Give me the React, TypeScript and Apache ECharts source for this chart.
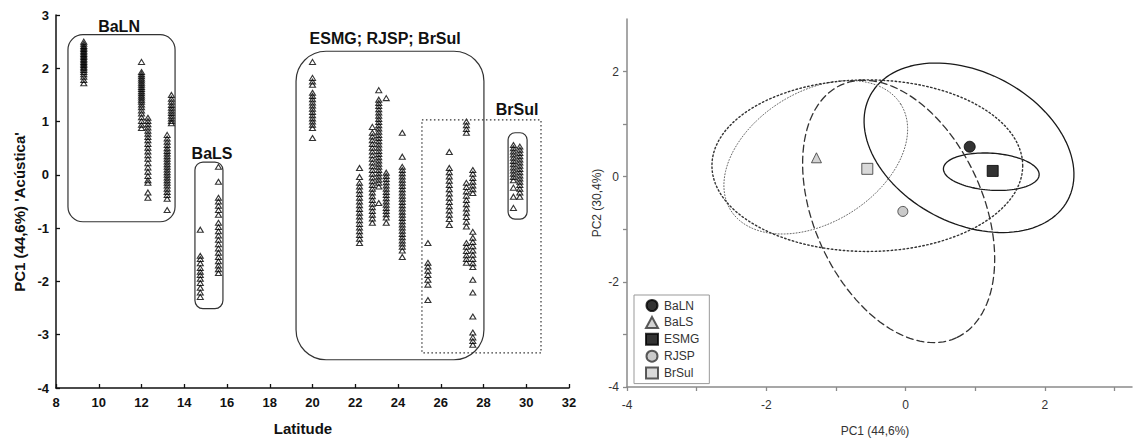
import React, { useEffect, useRef } from 'react';
import * as echarts from 'echarts';

// ---------- Left panel: PC1 scores by latitude ----------
const lat09_3 = [2.50, 2.46, 2.42, 2.39, 2.36, 2.33, 2.30, 2.27, 2.24, 2.21, 2.18, 2.15, 2.12, 2.09, 2.06, 2.03, 2.00, 1.97, 1.93, 1.89, 1.84, 1.78, 1.72];
const lat12_0 = [2.12, 1.93, 1.89, 1.85, 1.81, 1.77, 1.73, 1.69, 1.65, 1.61, 1.57, 1.53, 1.49, 1.45, 1.41, 1.37, 1.32, 1.27, 1.21, 1.15, 1.08, 1.01, 0.94, 0.88];
const lat12_3 = [1.07, 1.01, 0.95, 0.89, 0.83, 0.77, 0.71, 0.65, 0.58, 0.51, 0.44, 0.37, 0.30, 0.22, 0.14, 0.06, -0.02, -0.10, -0.15, -0.33, -0.43];
const lat13_2 = [0.75, 0.68, 0.62, 0.56, 0.50, 0.45, 0.40, 0.35, 0.30, 0.25, 0.20, 0.15, 0.10, 0.05, 0.00, -0.05, -0.10, -0.15, -0.20, -0.26, -0.32, -0.38, -0.45, -0.66];
const lat13_4 = [1.50, 1.43, 1.37, 1.31, 1.26, 1.21, 1.16, 1.11, 1.06, 1.01, 0.97];
const lat14_75 = [-1.03, -1.52, -1.58, -1.66, -1.75, -1.82, -1.88, -1.95, -2.03, -2.12, -2.21, -2.29];
const lat15_6 = [0.15, -0.13, -0.43, -0.50, -0.58, -0.66, -0.75, -0.90, -0.98, -1.06, -1.14, -1.22, -1.30, -1.38, -1.46, -1.54, -1.62, -1.70, -1.77, -1.84];
const lat20_0 = [2.12, 1.82, 1.75, 1.69, 1.54, 1.48, 1.42, 1.36, 1.30, 1.24, 1.18, 1.12, 1.06, 1.00, 0.94, 0.88, 0.69];
const lat22_2 = [0.13, -0.04, -0.15, -0.22, -0.29, -0.36, -0.43, -0.50, -0.57, -0.64, -0.71, -0.78, -0.85, -0.92, -0.99, -1.06, -1.13, -1.20, -1.28];
const lat22_8 = [0.90, 0.79, 0.72, 0.65, 0.58, 0.51, 0.44, 0.37, 0.30, 0.23, 0.16, 0.09, 0.02, -0.05, -0.12, -0.19, -0.26, -0.33, -0.40, -0.47, -0.54, -0.61, -0.68, -0.75, -0.82, -0.90];
const lat23_1 = [1.59, 1.41, 1.35, 1.29, 1.23, 1.17, 1.11, 1.05, 0.99, 0.93, 0.87, 0.81, 0.75, 0.69, 0.63, 0.57, 0.51, 0.45, 0.39, 0.33, 0.27, 0.21, 0.15, 0.09, 0.03, -0.03, -0.09, -0.15, -0.22, -0.53];
const lat23_45 = [1.44, 0.04, -0.02, -0.08, -0.14, -0.20, -0.26, -0.32, -0.38, -0.44, -0.50, -0.56, -0.62, -0.68, -0.74, -0.80, -0.90];
const lat24_2 = [0.79, 0.34, 0.15, 0.09, 0.03, -0.03, -0.09, -0.15, -0.21, -0.27, -0.33, -0.39, -0.45, -0.51, -0.57, -0.63, -0.69, -0.75, -0.81, -0.87, -0.93, -0.99, -1.05, -1.11, -1.17, -1.23, -1.29, -1.35, -1.42, -1.54];
const lat25_4 = [-1.28, -1.65, -1.72, -1.80, -1.88, -1.97, -2.06, -2.35];
const lat26_4 = [0.43, 0.13, 0.05, -0.03, -0.11, -0.19, -0.27, -0.35, -0.43, -0.51, -0.59, -0.67, -0.75, -0.83, -0.94];
const lat27_2 = [1.00, 0.93, 0.86, 0.79, -0.15, -0.23, -0.31, -0.39, -0.47, -0.55, -0.63, -0.71, -0.79, -0.88, -0.97, -1.28, -1.35, -1.43, -1.51, -1.58, -1.65];
const lat27_5 = [0.09, 0.02, -0.06, -0.13, -0.20, -0.27, -0.34, -1.07, -1.18, -1.26, -1.34, -1.42, -1.50, -1.58, -1.66, -1.73, -1.97, -2.21, -2.66, -2.96, -3.05, -3.12, -3.19];
const lat29_4 = [0.56, 0.50, 0.44, 0.38, 0.32, 0.26, 0.20, 0.14, 0.08, 0.02, -0.04, -0.10, -0.24, -0.41, -0.62];
const lat29_7 = [0.53, 0.47, 0.41, 0.35, 0.29, 0.23, 0.17, 0.11, 0.05, -0.01, -0.07, -0.13, -0.19, -0.26, -0.33, -0.41];

const latitudes = [9.3, 12.0, 12.3, 13.2, 13.4, 14.75, 15.6, 20.0, 22.2, 22.8, 23.1, 23.45, 24.2, 25.4, 26.4, 27.2, 27.5, 29.4, 29.7];
const pc1Columns = [lat09_3, lat12_0, lat12_3, lat13_2, lat13_4, lat14_75, lat15_6, lat20_0, lat22_2, lat22_8, lat23_1, lat23_45, lat24_2, lat25_4, lat26_4, lat27_2, lat27_5, lat29_4, lat29_7];

const leftXTicks = [8, 32, 2];
const leftYTicks = [-4, 3, 1];

// group boxes (lat/PC1 coordinates)
const boxNames = ['BaLN', 'BaLS', 'ESMG; RJSP; BrSul', 'BrSul', ''];
const boxLat0 = [8.56, 14.5, 19.23, 25.12, 29.15];
const boxLat1 = [13.57, 15.81, 28.02, 30.69, 30.04];
const boxPc0 = [2.63, 0.24, 2.32, 1.03, 0.79];
const boxPc1 = [-0.88, -2.51, -3.47, -3.34, -0.83];
const labelLat = [10.95, 15.3, 23.4, 29.57];
const labelPc = [2.78, 0.41, 2.55, 1.22];

// ---------- Right panel: PCA centroids & ellipses ----------
const groups = ['BaLN', 'BaLS', 'ESMG', 'RJSP', 'BrSul'];
const centroidPC1 = [0.92, -1.28, 1.25, -0.04, -0.55];
const centroidPC2 = [0.57, 0.36, 0.11, -0.66, 0.15];
const ellipseCX = [0.91, -1.29, 1.23, -0.10, -0.55];
const ellipseCY = [0.55, 0.37, 0.095, -0.66, 0.21];
const ellipseU = [[1.418, -0.996], [1.221, 1.009], [0.687, -0.063], [0.825, -2.406], [2.231, 0]];
const ellipseV = [[-0.509, -1.268], [0.499, -1.055], [-0.019, -0.351], [-1.105, -0.662], [0, -1.632]];

const FONT = '"Liberation Sans", Arial, Helvetica, sans-serif';

function ellipsePoints(i: number) {
  const pts: number[][] = [];
  for (let k = 0; k <= 120; k++) {
    const t = (k / 120) * Math.PI * 2;
    pts.push([
      ellipseCX[i] + ellipseU[i][0] * Math.cos(t) + ellipseV[i][0] * Math.sin(t),
      ellipseCY[i] + ellipseU[i][1] * Math.cos(t) + ellipseV[i][1] * Math.sin(t),
    ]);
  }
  return pts;
}

export default function App() {
  const ref = useRef<HTMLDivElement>(null);
  useEffect(() => {
    if (!ref.current) return;
    document.body.style.margin = '0';
    const chart = echarts.init(ref.current, undefined, { renderer: 'svg' });

    const scatterData: number[][] = [];
    latitudes.forEach((lat, i) => pc1Columns[i].forEach((v) => scatterData.push([lat, v])));

    const ellipseStyles = [
      { color: '#1a1a1a', width: 1.3, type: 'solid' },
      { color: '#666', width: 1, type: [1, 2] },
      { color: '#1a1a1a', width: 1.3, type: 'solid' },
      { color: '#333', width: 1.3, type: [7, 4] },
      { color: '#333', width: 1.4, type: [1.5, 2.5] },
    ];
    const centroidStyles = [
      { symbol: 'circle', size: 11, color: '#000', border: '#000' },
      { symbol: 'triangle', size: 10, color: '#c8c8c8', border: '#333' },
      { symbol: 'rect', size: 11, color: '#000', border: '#000' },
      { symbol: 'circle', size: 10, color: '#bdbdbd', border: '#333' },
      { symbol: 'rect', size: 11, color: '#cfcfcf', border: '#333' },
    ];

    const series: any[] = [
      {
        type: 'scatter',
        name: 'scores',
        xAxisIndex: 0,
        yAxisIndex: 0,
        symbol: 'triangle',
        symbolSize: [6, 5],
        data: scatterData,
        itemStyle: { color: 'rgba(255,255,255,0)', borderColor: '#000', borderWidth: 1.1 },
        silent: true,
      },
    ];
    groups.forEach((g, i) => {
      series.push({
        type: 'line',
        name: g + '-ellipse',
        xAxisIndex: 1,
        yAxisIndex: 1,
        showSymbol: false,
        symbol: 'none',
        data: ellipsePoints(i),
        lineStyle: { color: ellipseStyles[i].color, width: ellipseStyles[i].width, type: ellipseStyles[i].type, cap: 'round' },
        silent: true,
        z: 2,
      });
    });
    groups.forEach((g, i) => {
      const s = centroidStyles[i];
      series.push({
        type: 'scatter',
        name: g,
        xAxisIndex: 1,
        yAxisIndex: 1,
        symbol: s.symbol,
        symbolSize: s.size,
        data: [[centroidPC1[i], centroidPC2[i]]],
        itemStyle: { color: s.color, borderColor: s.border, borderWidth: 1 },
        z: 5,
      });
    });

    const leftAxisLine = { show: true, onZero: false, lineStyle: { color: '#111', width: 1.5 } };
    const rightAxisLine = { show: true, onZero: false, lineStyle: { color: '#8a8a8a', width: 1.5 } };

    chart.setOption({
      animation: false,
      textStyle: { fontFamily: FONT },
      grid: [
        { left: 56, top: 15, width: 513, height: 373 },
        { left: 627, top: 19, width: 505, height: 368 },
      ],
      xAxis: [
        {
          gridIndex: 0, type: 'value', min: leftXTicks[0], max: leftXTicks[1], interval: leftXTicks[2],
          axisLine: leftAxisLine, splitLine: { show: false },
          axisTick: { show: true, inside: true, length: 4, lineStyle: { color: '#111', width: 1.3 } },
          axisLabel: { fontFamily: FONT, fontSize: 13, fontWeight: 'bold', color: '#111', margin: 8 },
        },
        {
          gridIndex: 1, type: 'value', min: -4, max: 3.25, interval: 1,
          axisLine: rightAxisLine, splitLine: { show: false },
          axisTick: { show: true, inside: false, length: 4, lineStyle: { color: '#8a8a8a', width: 1.3 } },
          axisLabel: {
            fontFamily: FONT, fontSize: 12, color: '#333', margin: 12, showMaxLabel: false,
            formatter: (v: number) => (Math.round(v) % 2 === 0 ? String(v) : ''),
          },
        },
      ],
      yAxis: [
        {
          gridIndex: 0, type: 'value', min: leftYTicks[0], max: leftYTicks[1], interval: leftYTicks[2],
          axisLine: leftAxisLine, splitLine: { show: false },
          axisTick: { show: true, inside: true, length: 4, lineStyle: { color: '#111', width: 1.3 } },
          axisLabel: { fontFamily: FONT, fontSize: 13, fontWeight: 'bold', color: '#111', margin: 7 },
        },
        {
          gridIndex: 1, type: 'value', min: -4, max: 3, interval: 1,
          axisLine: rightAxisLine, splitLine: { show: false },
          axisTick: { show: true, inside: false, length: 4, lineStyle: { color: '#8a8a8a', width: 1.3 } },
          axisLabel: {
            fontFamily: FONT, fontSize: 12, color: '#333', margin: 8, showMaxLabel: false,
            formatter: (v: number) => (Math.round(v) % 2 === 0 ? String(v) : ''),
          },
        },
      ],
      legend: {
        data: groups,
        orient: 'vertical',
        left: 634,
        top: 295,
        padding: [4, 10, 4, 11],
        itemWidth: 12,
        itemHeight: 11,
        itemGap: 3.9,
        borderColor: '#999',
        borderWidth: 1,
        backgroundColor: '#fff',
        selectedMode: false,
        textStyle: { fontFamily: FONT, fontSize: 12, color: '#333', padding: [0, 0, 0, 1] },
      },
      series,
    });

    const px = (lat: number, pc: number) => chart.convertToPixel({ gridIndex: 0 }, [lat, pc]) as number[];
    const radii = [15, 8, 30, 0, 7];
    const graphics: any[] = [];
    boxLat0.forEach((_, i) => {
      const a = px(boxLat0[i], boxPc0[i]);
      const b = px(boxLat1[i], boxPc1[i]);
      graphics.push({
        type: 'rect',
        silent: true,
        shape: { x: a[0], y: a[1], width: b[0] - a[0], height: b[1] - a[1], r: radii[i] },
        style: i === 3
          ? { fill: 'none', stroke: '#333', lineWidth: 1.2, lineDash: [1.5, 2.5] }
          : { fill: 'none', stroke: '#333', lineWidth: 1.2 },
        z: 10,
      });
    });
    labelLat.forEach((_, i) => {
      const p = px(labelLat[i], labelPc[i]);
      graphics.push({
        type: 'text', x: p[0], y: p[1], silent: true, z: 11,
        style: { text: boxNames[i], fontFamily: FONT, fontSize: 16, fontWeight: 'bold', fill: '#111', align: 'center', verticalAlign: 'middle' },
      });
    });
    // axis titles
    graphics.push({
      type: 'text', x: 303, y: 428, silent: true,
      style: { text: 'Latitude', fontFamily: FONT, fontSize: 15, fontWeight: 'bold', fill: '#111', align: 'center', verticalAlign: 'middle' },
    });
    graphics.push({
      type: 'text', x: 19, y: 212, rotation: Math.PI / 2, silent: true,
      style: { text: "PC1 (44,6%) 'Acústica'", fontFamily: FONT, fontSize: 15, fontWeight: 'bold', fill: '#111', align: 'center', verticalAlign: 'middle' },
    });
    graphics.push({
      type: 'text', x: 875, y: 431, silent: true,
      style: { text: 'PC1 (44,6%)', fontFamily: FONT, fontSize: 12, fill: '#333', align: 'center', verticalAlign: 'middle' },
    });
    graphics.push({
      type: 'text', x: 597, y: 203, rotation: Math.PI / 2, silent: true,
      style: { text: 'PC2 (30,4%)', fontFamily: FONT, fontSize: 12, fill: '#333', align: 'center', verticalAlign: 'middle' },
    });
    chart.setOption({ graphic: graphics });

    return () => chart.dispose();
  }, []);
  return <div ref={ref} style={{ position: 'fixed', left: 0, top: 0, width: 1134, height: 445, background: '#fff' }} />;
}
